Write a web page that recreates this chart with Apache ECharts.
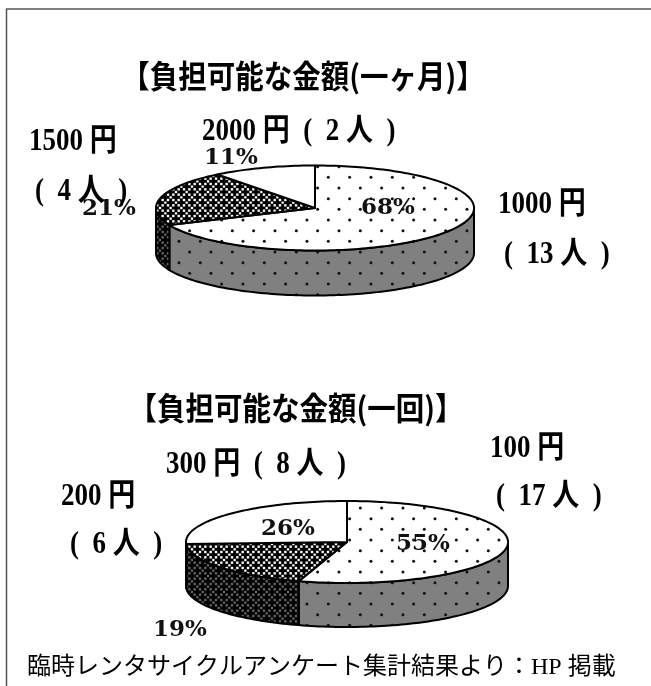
<!DOCTYPE html>
<html>
<head>
<meta charset="utf-8">
<style>
html, body { margin: 0; padding: 0; background: #fff; }
#chart { width: 651px; height: 686px; filter: blur(0.5px); }
</style>
<script src="https://cdn.jsdelivr.net/npm/echarts@6/dist/echarts.min.js"></script>
</head>
<body>
<div id="chart"></div>
<script>
// data (people per answer)
const monthCategories = ['1000', '1500', '2000'];
const monthPeople = [13, 4, 2];
const onceCategories = ['100', '200', '300'];
const oncePeople = [17, 6, 8];
const monthTitle = '【負担可能な金額(一ヶ月)】';
const onceTitle = '【負担可能な金額(一回)】';
const sourceNote = '臨時レンタサイクルアンケート集計結果より：HP 掲載';

const GOTHIC = '"Noto Sans CJK JP", sans-serif';
const SERIF = '"Liberation Serif", "Noto Sans CJK JP", serif';
const PCT = '"DejaVu Serif", serif';

// little tiles for the old Excel fill patterns
function dotTile(bg) {
    const c = document.createElement('canvas');
    c.width = 64; c.height = 64;
    const g = c.getContext('2d');
    g.fillStyle = bg;
    g.fillRect(0, 0, 64, 64);
    g.fillStyle = '#111';
    const step = 64 / 6;
    for (let r = 0; r < 6; r++) {
        for (let i = 0; i < 6; i++) {
            if ((r + i) % 2) continue;
            g.beginPath();
            g.arc(i * step + 8.3, r * step + 6.7, 1.5, 0, Math.PI * 2);
            g.fill();
        }
    }
    return c;
}
function crossTile(bg, fg) {
    const c = document.createElement('canvas');
    c.width = 32; c.height = 32;
    const g = c.getContext('2d');
    g.fillStyle = bg;
    g.fillRect(0, 0, 32, 32);
    g.fillStyle = fg;
    const step = 32 / 6;
    for (let r = -1; r < 7; r++) {
        for (let i = -1; i < 7; i++) {
            if ((r + i) % 2) continue;
            const x = i * step, y = r * step;
            g.fillRect(x - 1.5, y - 4.2, 3, 8.4);
            g.fillRect(x - 4.2, y - 1.5, 8.4, 3);
        }
    }
    return c;
}
const pat = (image) => ({ image: image, repeat: 'repeat' });
const dotsTop = pat(dotTile('#fff'));
const dotsSide = pat(dotTile('#808080'));
const crossTop = pat(crossTile('#fff', '#000'));
const crossSide = pat(crossTile('#666', '#000'));

const topFills = [dotsTop, crossTop, '#fff'];
const sideFills = [dotsSide, crossSide, '#fff'];

function ellipsePt(p, deg, dy) {
    const a = deg * Math.PI / 180;
    return [p.cx + p.rx * Math.sin(a), p.cy - p.ry * Math.cos(a) + (dy || 0)];
}
function arcPts(p, from, to, dy) {
    const pts = [];
    const n = Math.max(2, Math.ceil((to - from) / 1.5));
    for (let i = 0; i <= n; i++) pts.push(ellipsePt(p, from + (to - from) * i / n, dy));
    return pts;
}

// one tilted pie, angles come from the values
function pieSeries(values, p) {
    const total = values.reduce((a, b) => a + b, 0);
    const line = { stroke: '#000', lineWidth: 2, lineJoin: 'round' };
    return {
        type: 'custom',
        coordinateSystem: 'none',
        silent: true,
        data: values.map((v, i) => [v, values.slice(0, i).reduce((a, b) => a + b, 0), i]),
        renderItem: function (params, api) {
            const v = api.value(0), before = api.value(1), i = api.value(2);
            const a0 = before / total * 360, a1 = (before + v) / total * 360;
            const children = [];
            // side wall, only the part facing front (90..270 deg)
            const s0 = Math.max(a0, 90), s1 = Math.min(a1, 270);
            if (s1 > s0) {
                const up = arcPts(p, s0, s1, 0);
                const down = arcPts(p, s0, s1, p.depth).reverse();
                children.push({
                    type: 'polygon',
                    shape: { points: up.concat(down) },
                    style: Object.assign({ fill: sideFills[i] }, line)
                });
            }
            children.push({
                type: 'polygon',
                shape: { points: [[p.cx, p.cy]].concat(arcPts(p, a0, a1, 0)) },
                style: Object.assign({ fill: topFills[i] }, line)
            });
            const lab = p.pct[i];
            children.push({
                type: 'text',
                z2: 10,
                style: {
                    x: lab[0], y: lab[1],
                    text: Math.round(v / total * 100) + '%',
                    font: 'bold 23px ' + PCT,
                    fill: '#111',
                    align: 'center', verticalAlign: 'middle'
                }
            });
            return { type: 'group', children: children };
        }
    };
}

function label(text, x, y) {
    return {
        type: 'text', x: x, y: y + 2, scaleY: 1.15, z: 20,
        style: { text: text, font: 'bold 27px ' + SERIF, fill: '#000', verticalAlign: 'middle' }
    };
}
function heading(text, x, y) {
    return {
        type: 'text', x: x, y: y, scaleY: 1.1,
        style: { text: text, font: 'bold 28.5px ' + GOTHIC, fill: '#000', align: 'center', verticalAlign: 'middle' }
    };
}
const yenText = (c) => c + ' 円';
const peopleText = (n) => '(  ' + n + ' 人  )';

const myChart = echarts.init(document.getElementById('chart'), null, { renderer: 'canvas' });
const option = {
    animation: false,
    backgroundColor: '#fff',
    series: [
        pieSeries(monthPeople, { cx: 315, cy: 208, rx: 159, ry: 42.5, depth: 45,
            pct: [[388, 208], [109, 209], [231, 158]] }),
        pieSeries(oncePeople, { cx: 347, cy: 542, rx: 161, ry: 41, depth: 44,
            pct: [[423, 544], [180, 630], [288, 529]] })
    ],
    graphic: [
        { type: 'polyline', shape: { points: [[6.5, 686], [6.5, 9], [651, 9]] }, style: { stroke: '#555', lineWidth: 1.5, fill: null } },
        heading(monthTitle, 303, 76),
        heading(onceTitle, 296, 408),
        label(yenText(monthCategories[2]) + '  ' + peopleText(monthPeople[2]), 202, 130),
        label(yenText(monthCategories[1]), 29, 140),
        label(peopleText(monthPeople[1]), 35, 190),
        label(yenText(monthCategories[0]), 498, 203),
        label(peopleText(monthPeople[0]), 504, 253),
        label(yenText(onceCategories[2]) + '  ' + peopleText(oncePeople[2]), 166, 463),
        label(yenText(onceCategories[1]), 61, 495),
        label(peopleText(oncePeople[1]), 70, 543),
        label(yenText(onceCategories[0]), 490, 447),
        label(peopleText(oncePeople[0]), 496, 495),
        { type: 'text', x: 27, y: 668, style: { text: sourceNote, font: '24px "Liberation Serif", ' + GOTHIC, fill: '#000', verticalAlign: 'middle' } }
    ]
};
option && myChart.setOption(option);
</script>
</body>
</html>
